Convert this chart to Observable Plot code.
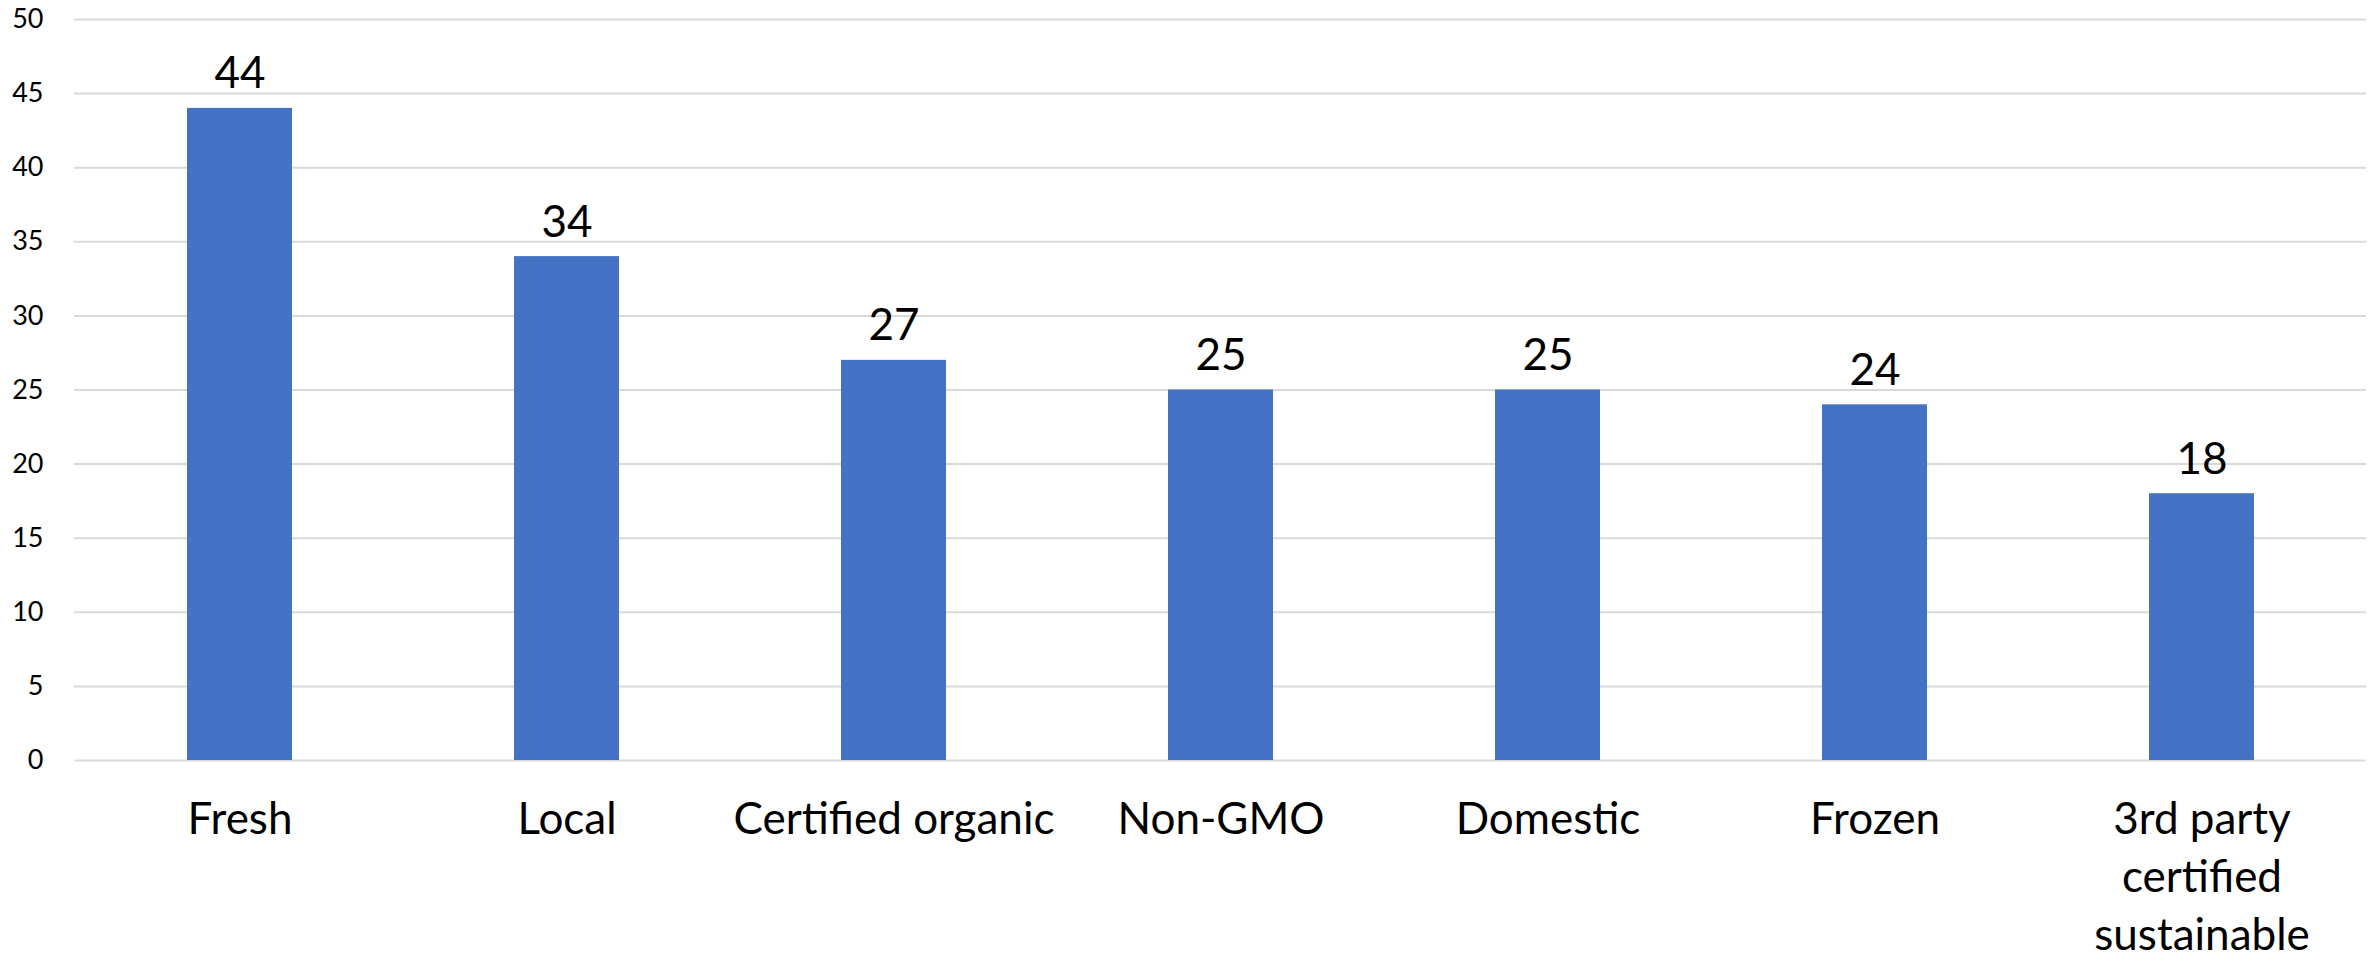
<!DOCTYPE html>
<html>
<head>
<meta charset="utf-8">
<script src="https://cdn.jsdelivr.net/npm/d3@7"></script>
<script src="https://cdn.jsdelivr.net/npm/@observablehq/plot@0.6"></script>
<style>
  html, body { margin: 0; padding: 0; background: #fff; }
  #chart svg { display: block; }
</style>
</head>
<body>
<div id="chart"></div>
<script>
const categories = ["Fresh", "Local", "Certified organic", "Non-GMO", "Domestic", "Frozen", "3rd party certified sustainable"];
const values = [44, 34, 27, 25, 25, 24, 18];
const yTicks = [0, 5, 10, 15, 20, 25, 30, 35, 40, 45, 50];
const categoryLabels = {"3rd party certified sustainable": "3rd party\ncertified\nsustainable"};

const data = categories.map((c, i) => ({category: c, value: values[i]}));

const chart = Plot.plot({
  width: 2376,
  height: 959,
  marginLeft: 74,
  marginRight: 10,
  marginTop: 19,
  marginBottom: 199,
  style: {fontFamily: "Lato, sans-serif", background: "#fff", color: "#000"},
  x: {domain: categories, paddingInner: 0.68, paddingOuter: 0.34, label: null},
  y: {domain: [0, 50], label: null},
  marks: [
    Plot.ruleY(yTicks, {stroke: "#D9D9D9", strokeWidth: 2}),
    Plot.barY(data, {x: "category", y: "value", fill: "#4472C4"}),
    Plot.text(data, {x: "category", y: "value", text: d => String(d.value), lineAnchor: "bottom", dy: -20, fontSize: 44, fill: "#000"}),
    Plot.axisY({ticks: yTicks, tickSize: 0, tickPadding: 31, fontSize: 27, label: null, fill: "#000"}),
    Plot.axisX({tickSize: 0, tickPadding: 32, fontSize: 44, lineHeight: 1.32, label: null, fill: "#000",
      tickFormat: d => categoryLabels[d] ?? d})
  ]
});
document.getElementById("chart").appendChild(chart);
</script>
</body>
</html>
